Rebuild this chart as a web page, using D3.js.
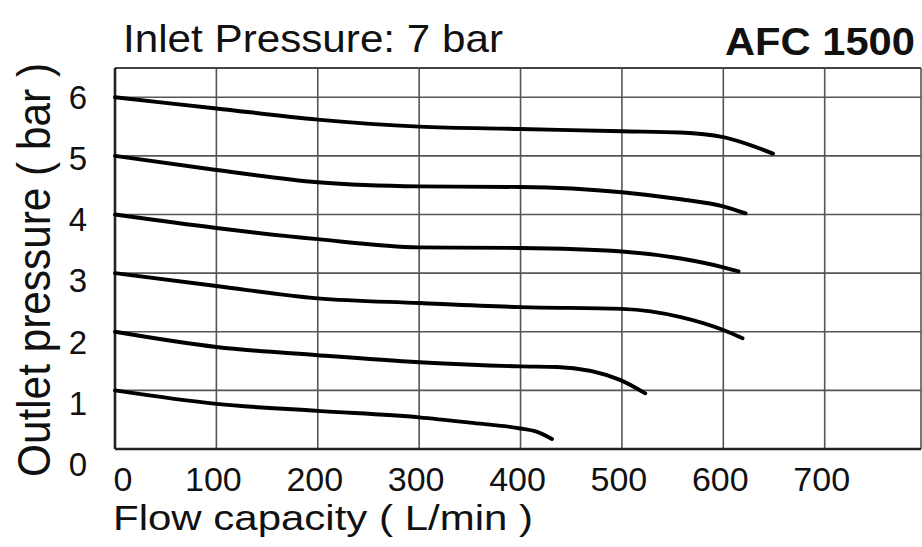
<!DOCTYPE html>
<html>
<head>
<meta charset="utf-8">
<script src="https://cdnjs.cloudflare.com/ajax/libs/d3/7.8.5/d3.min.js"></script>
<style>
  body { margin: 0; background: #fff; }
  svg { display: block; font-family: "Liberation Sans", Arial, sans-serif; }
</style>
</head>
<body>
<script>
const width = 922,
  height = 547;

// Flow capacity (L/min) vs outlet pressure (bar), one curve per set pressure
const flow6 = [0, 100, 200, 300, 400, 500, 558, 600, 649];
const bar6 = [6.0, 5.81, 5.62, 5.5, 5.46, 5.42, 5.4, 5.32, 5.04];
const flow5 = [0, 100, 200, 300, 400, 500, 558, 600, 622];
const bar5 = [5.0, 4.76, 4.55, 4.48, 4.47, 4.38, 4.26, 4.14, 4.02];
const flow4 = [0, 100, 200, 300, 400, 500, 558, 600, 615];
const bar4 = [4.0, 3.77, 3.58, 3.44, 3.43, 3.37, 3.25, 3.1, 3.03];
const flow3 = [0, 100, 200, 300, 400, 500, 558, 600, 619];
const bar3 = [3.0, 2.78, 2.57, 2.49, 2.42, 2.39, 2.25, 2.03, 1.89];
const flow2 = [0, 100, 200, 300, 400, 436, 498, 523];
const bar2 = [2.0, 1.74, 1.6, 1.48, 1.41, 1.4, 1.18, 0.95];
const flow1 = [0, 100, 200, 300, 350, 400, 415, 431];
const bar1 = [1.0, 0.77, 0.65, 0.54, 0.45, 0.35, 0.3, 0.17];

const xTicks = [0, 100, 200, 300, 400, 500, 600, 700];
const yTicks = [0, 1, 2, 3, 4, 5, 6];

const curves = [
  [flow6, bar6],
  [flow5, bar5],
  [flow4, bar4],
  [flow3, bar3],
  [flow2, bar2],
  [flow1, bar1]
].map(([f, b]) => f.map((d, i) => [d, b[i]]));

const xScale = d3.scaleLinear().domain([0, 795]).range([115, 921]);
const yScale = d3.scaleLinear().domain([0, 6.5]).range([449, 68]);
// the y numbers sit a little lower than their grid lines in the original
const yLabelPos = d3.scaleLinear().domain([0, 6]).range([464, 97]);

const svg = d3
  .select("body")
  .append("svg")
  .attr("width", width)
  .attr("height", height);

// grid
svg
  .append("g")
  .selectAll("line")
  .data(xTicks.slice(1))
  .enter()
  .append("line")
  .attr("x1", d => xScale(d))
  .attr("x2", d => xScale(d))
  .attr("y1", yScale(6.5))
  .attr("y2", yScale(0))
  .attr("stroke", "#555")
  .attr("stroke-width", 1.6);

svg
  .append("g")
  .selectAll("line")
  .data(yTicks.slice(1))
  .enter()
  .append("line")
  .attr("x1", xScale(0))
  .attr("x2", xScale(795))
  .attr("y1", d => yScale(d))
  .attr("y2", d => yScale(d))
  .attr("stroke", "#555")
  .attr("stroke-width", 1.6);

// frame
svg
  .append("line")
  .attr("x1", xScale(0))
  .attr("x2", xScale(795))
  .attr("y1", yScale(6.5))
  .attr("y2", yScale(6.5))
  .attr("stroke", "#444")
  .attr("stroke-width", 2);

svg
  .append("line")
  .attr("x1", xScale(795))
  .attr("x2", xScale(795))
  .attr("y1", yScale(6.5))
  .attr("y2", yScale(0))
  .attr("stroke", "#555")
  .attr("stroke-width", 1.6);

svg
  .append("line")
  .attr("x1", xScale(0))
  .attr("x2", xScale(795))
  .attr("y1", yScale(0))
  .attr("y2", yScale(0))
  .attr("stroke", "#222")
  .attr("stroke-width", 2.6);

svg
  .append("line")
  .attr("x1", xScale(0))
  .attr("x2", xScale(0))
  .attr("y1", yScale(6.5))
  .attr("y2", yScale(0))
  .attr("stroke", "#222")
  .attr("stroke-width", 2.6);

// curves
const line = d3
  .line()
  .x(d => xScale(d[0]))
  .y(d => yScale(d[1]))
  .curve(d3.curveMonotoneX);

svg
  .append("g")
  .selectAll("path")
  .data(curves)
  .enter()
  .append("path")
  .attr("d", line)
  .attr("fill", "none")
  .attr("stroke", "#000")
  .attr("stroke-width", 3.9)
  .attr("stroke-linecap", "round")
  .attr("stroke-linejoin", "round");

// tick labels
svg
  .append("g")
  .selectAll("text")
  .data(xTicks)
  .enter()
  .append("text")
  .attr("x", d => (d === 0 ? xScale(d) + 8 : xScale(d) - 3))
  .attr("y", 491)
  .attr("text-anchor", "middle")
  .attr("font-size", 34)
  .attr("fill", "#111")
  .text(d => d);

svg
  .append("g")
  .selectAll("text")
  .data(yTicks)
  .enter()
  .append("text")
  .attr("x", 78)
  .attr("y", d => yLabelPos(d))
  .attr("dy", "0.36em")
  .attr("text-anchor", "middle")
  .attr("font-size", 33)
  .attr("fill", "#111")
  .text(d => d);

// titles
svg
  .append("text")
  .attr("x", 123)
  .attr("y", 52)
  .attr("font-size", 39)
  .attr("textLength", 380)
  .attr("lengthAdjust", "spacingAndGlyphs")
  .attr("fill", "#111")
  .text("Inlet Pressure: 7 bar");

svg
  .append("text")
  .attr("x", 725)
  .attr("y", 55)
  .attr("font-size", 38)
  .attr("font-weight", "bold")
  .attr("textLength", 190)
  .attr("lengthAdjust", "spacingAndGlyphs")
  .attr("fill", "#111")
  .text("AFC 1500");

svg
  .append("text")
  .attr("x", 113)
  .attr("y", 530)
  .attr("font-size", 35)
  .attr("textLength", 420)
  .attr("lengthAdjust", "spacingAndGlyphs")
  .attr("fill", "#111")
  .text("Flow capacity ( L/min )");

svg
  .append("text")
  .attr("transform", "translate(50,270) rotate(-90)")
  .attr("text-anchor", "middle")
  .attr("font-size", 46)
  .attr("textLength", 414)
  .attr("lengthAdjust", "spacingAndGlyphs")
  .attr("fill", "#111")
  .text("Outlet pressure ( bar )");
</script>
</body>
</html>
